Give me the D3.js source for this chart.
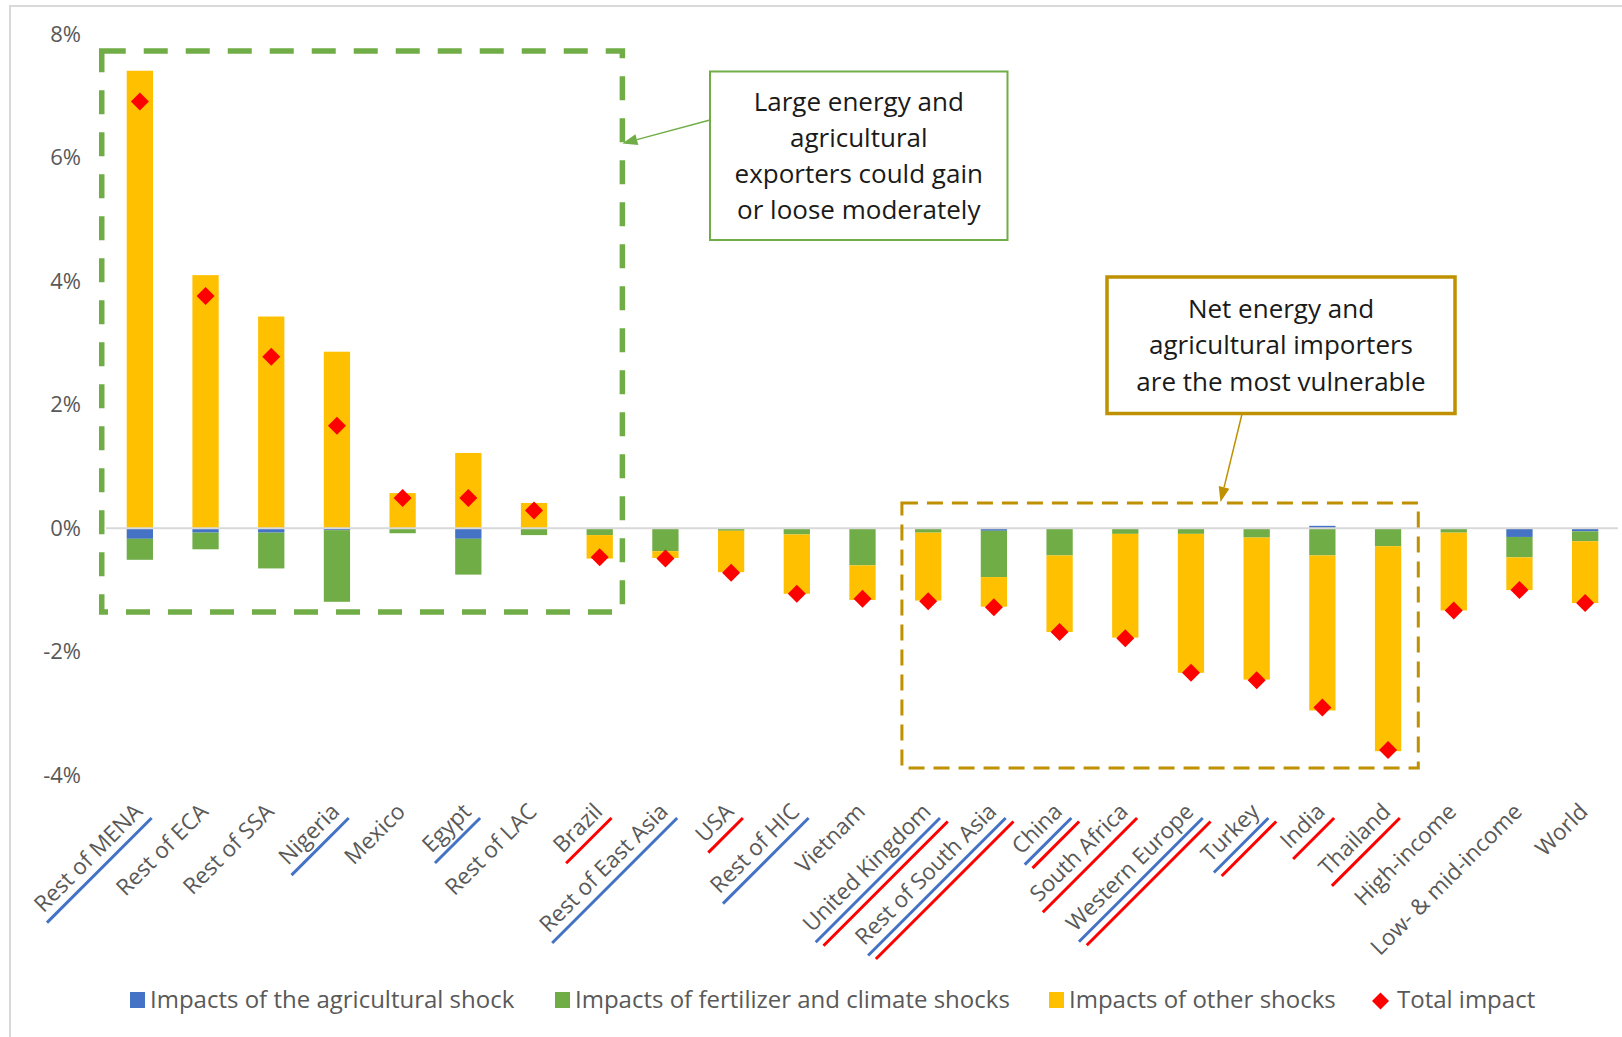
<!DOCTYPE html>
<html>
<head>
<meta charset="utf-8">
<script src="https://cdn.jsdelivr.net/npm/d3@7"></script>
<style>
  html, body { margin: 0; padding: 0; background: #ffffff; }
  svg { display: block; }
  text { font-family: "Open Sans", "Noto Sans", sans-serif; }
</style>
</head>
<body>
<svg id="chart" width="1622" height="1037"></svg>
<script>
// ---- Data (percent change) ----
const categories = [
  "Rest of MENA", "Rest of ECA", "Rest of SSA", "Nigeria", "Mexico", "Egypt",
  "Rest of LAC", "Brazil", "Rest of East Asia", "USA", "Rest of HIC", "Vietnam",
  "United Kingdom", "Rest of South Asia", "China", "South Africa", "Western Europe",
  "Turkey", "India", "Thailand", "High-income", "Low- & mid-income", "World"
];
const agriShock = [
  -0.17, -0.07, -0.07, -0.03, 0.00, -0.17, 0.00, 0.00, 0.00, 0.00, 0.00, 0.00,
  0.00, -0.04, 0.00, 0.00, 0.00, 0.00, 0.04, 0.00, 0.00, -0.14, -0.05
];
const fertClimateShocks = [
  -0.34, -0.27, -0.58, -1.16, -0.08, -0.58, -0.11, -0.11, -0.37, -0.04, -0.10, -0.60,
  -0.07, -0.75, -0.44, -0.09, -0.09, -0.15, -0.44, -0.29, -0.07, -0.33, -0.16
];
const otherShocks = [
  7.41, 4.10, 3.43, 2.86, 0.57, 1.22, 0.41, -0.38, -0.11, -0.67, -0.96, -0.56,
  -1.10, -0.48, -1.24, -1.68, -2.25, -2.30, -2.51, -3.32, -1.26, -0.53, -1.00
];
const totalImpact = [
  6.91, 3.76, 2.78, 1.66, 0.49, 0.49, 0.29, -0.47, -0.49, -0.72, -1.06, -1.14,
  -1.18, -1.28, -1.68, -1.78, -2.34, -2.46, -2.90, -3.59, -1.33, -1.00, -1.21
];
const yTicks = [-4, -2, 0, 2, 4, 6, 8];

// Regions underlined in blue and/or red under the axis labels
const blueUnderlined = [
  "Rest of MENA", "Nigeria", "Egypt", "Rest of East Asia", "Rest of HIC",
  "United Kingdom", "Rest of South Asia", "China", "Western Europe", "Turkey"
];
const redUnderlined = [
  "Brazil", "USA", "United Kingdom", "Rest of South Asia", "China",
  "South Africa", "Western Europe", "Turkey", "India", "Thailand"
];

const seriesNames = [
  "Impacts of the agricultural shock",
  "Impacts of fertilizer and climate shocks",
  "Impacts of other shocks"
];
const totalName = "Total impact";
const seriesColors = ["#4472C4", "#70AD47", "#FFC000"];

const exporterNote = ["Large energy and", "agricultural", "exporters could gain", "or loose moderately"];
const importerNote = ["Net energy and", "agricultural importers", "are the most vulnerable"];

// ---- Layout ----
const W = 1622, H = 1037;
const plot = { left: 107, right: 1618, top: 34.3, bottom: 775.3 };
const axisGray = "#595959";

const svg = d3.select("#chart");

// outer chart frame (only its left and top edges fall inside the page)
svg.append("rect")
  .attr("x", 10).attr("y", 6)
  .attr("width", W + 40).attr("height", H + 40)
  .attr("fill", "#fff").attr("stroke", "#D9D9D9").attr("stroke-width", 2);

const x = d3.scaleBand()
  .domain(categories)
  .range([plot.left, plot.right])
  .paddingInner(0.6)
  .paddingOuter(0.3);

const y = d3.scaleLinear()
  .domain([-4, 8])
  .range([plot.bottom, plot.top]);

const step = x.step();
const cx = c => x(c) + x.bandwidth() / 2;

// ---- y axis labels ----
const yAxis = d3.axisLeft(y)
  .tickValues(yTicks)
  .tickSize(0)
  .tickPadding(26)
  .tickFormat(d => d + "%");

const yg = svg.append("g")
  .attr("transform", `translate(${plot.left},0)`)
  .call(yAxis);
yg.select(".domain").remove();
yg.selectAll("text")
  .attr("fill", axisGray)
  .style("font-size", "22px")
  .style("font-family", "'Open Sans', sans-serif");

// ---- stacked bars ----
const rows = categories.map((c, i) => ({
  cat: c, a: agriShock[i], f: fertClimateShocks[i], o: otherShocks[i]
}));
const stack = d3.stack()
  .keys(["a", "f", "o"])
  .offset(d3.stackOffsetDiverging);
const layers = stack(rows);

svg.append("g")
  .selectAll("g")
  .data(layers)
  .join("g")
  .attr("fill", (d, i) => seriesColors[i])
  .selectAll("rect")
  .data(d => d)
  .join("rect")
  .attr("x", d => x(d.data.cat))
  .attr("width", x.bandwidth())
  .attr("y", d => y(Math.max(d[0], d[1])))
  .attr("height", d => Math.abs(y(d[0]) - y(d[1])));

// zero line
svg.append("line")
  .attr("x1", plot.left - 1).attr("x2", plot.right)
  .attr("y1", y(0)).attr("y2", y(0))
  .attr("stroke", "#D9D9D9").attr("stroke-width", 2);

// total impact markers
const diamond = r => `M0,${-r}L${r},0L0,${r}L${-r},0Z`;
svg.append("g")
  .selectAll("path")
  .data(categories)
  .join("path")
  .attr("transform", (c, i) => `translate(${cx(c)},${y(totalImpact[i])})`)
  .attr("d", diamond(9))
  .attr("fill", "#FF0000");

// ---- category labels with underlines ----
const labelG = svg.append("g");
categories.forEach(c => {
  const g = labelG.append("g")
    .attr("transform", `translate(${cx(c) + 4},813) rotate(-45)`);
  const t = g.append("text")
    .attr("text-anchor", "end")
    .attr("fill", axisGray)
    .style("font-size", "22.5px")
    .text(c);
  const w = t.node().getComputedTextLength();
  const marks = [];
  if (blueUnderlined.includes(c)) marks.push("#4472C4");
  if (redUnderlined.includes(c)) marks.push("#FF0000");
  marks.forEach((col, k) => {
    g.append("line")
      .attr("x1", -w - 4 + k * 3).attr("x2", 2 + k * 3)
      .attr("y1", 9 + k * 8).attr("y2", 9 + k * 8)
      .attr("stroke", col).attr("stroke-width", 3);
  });
});

// ---- dashed group boxes ----
const exporterBox = {
  x0: cx(categories[0]) - 0.58 * step, x1: cx("Brazil") + 0.345 * step,
  y0: y(7.73), y1: y(-1.355)
};
svg.append("rect")
  .attr("x", exporterBox.x0).attr("y", exporterBox.y0)
  .attr("width", exporterBox.x1 - exporterBox.x0)
  .attr("height", exporterBox.y1 - exporterBox.y0)
  .attr("fill", "none").attr("stroke", "#70AD47")
  .attr("stroke-width", 5.5).attr("stroke-dasharray", "24,18");

const importerBox = {
  x0: cx("United Kingdom") - 0.4 * step, x1: cx("Thailand") + 0.46 * step,
  y0: y(0.41), y1: y(-3.88)
};
svg.append("rect")
  .attr("x", importerBox.x0).attr("y", importerBox.y0)
  .attr("width", importerBox.x1 - importerBox.x0)
  .attr("height", importerBox.y1 - importerBox.y0)
  .attr("fill", "none").attr("stroke", "#BF9000")
  .attr("stroke-width", 3).attr("stroke-dasharray", "16,9");

// ---- callouts ----
function arrow(x1, y1, x2, y2, color, width) {
  const ang = Math.atan2(y2 - y1, x2 - x1);
  const len = 15, half = 5.5;
  const bx = x2 - len * Math.cos(ang), by = y2 - len * Math.sin(ang);
  svg.append("line")
    .attr("x1", x1).attr("y1", y1).attr("x2", bx).attr("y2", by)
    .attr("stroke", color).attr("stroke-width", width);
  const px = -Math.sin(ang) * half, py = Math.cos(ang) * half;
  svg.append("path")
    .attr("d", `M${x2},${y2}L${bx + px},${by + py}L${bx - px},${by - py}Z`)
    .attr("fill", color);
}

function callout(box, lines, color, strokeW, lineGap) {
  svg.append("rect")
    .attr("x", box.x).attr("y", box.y)
    .attr("width", box.w).attr("height", box.h)
    .attr("fill", "#fff").attr("stroke", color).attr("stroke-width", strokeW);
  const t = svg.append("text")
    .attr("text-anchor", "middle")
    .attr("fill", "#1a1a1a")
    .style("font-size", "26px");
  const mid = box.y + box.h / 2;
  const first = mid - (lines.length - 1) * lineGap / 2;
  lines.forEach((s, i) => {
    t.append("tspan")
      .attr("x", box.x + box.w / 2)
      .attr("y", first + i * lineGap)
      .attr("dy", "0.35em")
      .text(s);
  });
}

arrow(710, 120, exporterBox.x1, 143.5, "#70AD47", 1.5);
callout({ x: 710, y: 71.5, w: 297.5, h: 168.5 }, exporterNote, "#70AD47", 2, 36);

arrow(1242, 414, 1220.5, importerBox.y0 - 1, "#BF9000", 1.5);
callout({ x: 1107, y: 277, w: 348, h: 136.5 }, importerNote, "#BF9000", 3.5, 36.7);

// ---- legend ----
const legendY = 1000;
const legendItems = [
  { name: seriesNames[0], color: seriesColors[0], x: 130, type: "rect" },
  { name: seriesNames[1], color: seriesColors[1], x: 555, type: "rect" },
  { name: seriesNames[2], color: seriesColors[2], x: 1049, type: "rect" },
  { name: totalName, color: "#FF0000", x: 1372, type: "diamond" }
];
const lg = svg.append("g");
legendItems.forEach(it => {
  if (it.type === "rect") {
    lg.append("rect")
      .attr("x", it.x).attr("y", legendY - 8)
      .attr("width", 15).attr("height", 16)
      .attr("fill", it.color);
  } else {
    lg.append("path")
      .attr("transform", `translate(${it.x + 8.5},${legendY + 1})`)
      .attr("d", diamond(8.5))
      .attr("fill", it.color);
  }
  lg.append("text")
    .attr("x", it.x + (it.type === "rect" ? 20 : 25))
    .attr("y", legendY)
    .attr("dy", "0.35em")
    .attr("fill", axisGray)
    .style("font-size", "24px")
    .text(it.name);
});
</script>
</body>
</html>
